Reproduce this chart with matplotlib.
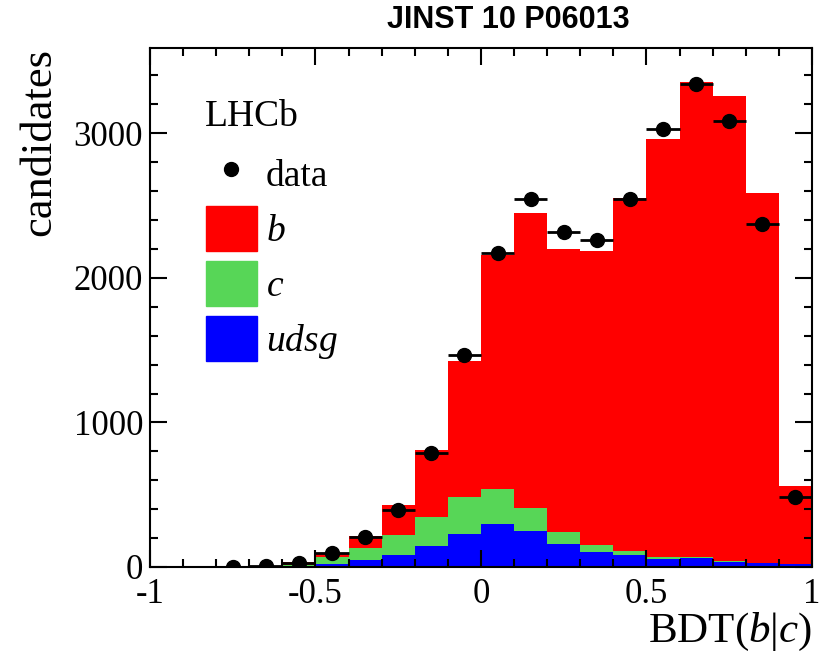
import numpy as np
import matplotlib
matplotlib.use('Agg')
import matplotlib.pyplot as plt
from matplotlib.lines import Line2D
from matplotlib.patches import Patch

plt.rcParams['font.family'] = ['Liberation Serif', 'DejaVu Serif']
plt.rcParams['mathtext.fontset'] = 'custom'
plt.rcParams['mathtext.rm'] = 'Liberation Serif'
plt.rcParams['mathtext.it'] = 'Liberation Serif:italic'

# 20 bins de -1 a 1
edges = np.linspace(-1, 1, 21)
centers = 0.5 * (edges[:-1] + edges[1:])

# contenuti stimati dalla figura (per bin)
udsg = [3, 3, 3, 3, 8, 20, 48, 83, 145, 226, 295, 249, 157, 106, 83, 53, 62, 37, 25, 18]
c = [0, 0, 0, 1, 7, 50, 85, 138, 200, 256, 242, 158, 84, 45, 28, 13, 6, 3, 2, 2]
b = [3, 3, 3, 4, 20, 27, 83, 207, 461, 942, 1619, 2043, 1957, 2033, 2439, 2892, 3284, 3215, 2558, 540]
data = [np.nan, np.nan, 2, 5, 25, 95, 205, 395, 790, 1465, 2170, 2545, 2315, 2262, 2548, 3027, 3340, 3085, 2370, 484]

udsg = np.array(udsg)
c_cum = udsg + np.array(c)
tot = c_cum + np.array(b)

fig = plt.figure(figsize=(8.21, 6.55), dpi=100)
ax = fig.add_axes([0.1827, 0.1344, 0.8063, 0.7923])

ax.stairs(tot, edges, fill=True, color='#ff0000', lw=0)
ax.stairs(c_cum, edges, fill=True, color='#57d657', lw=0)
ax.stairs(udsg, edges, fill=True, color='#0000ff', lw=0)

ax.errorbar(centers, data, xerr=0.05, fmt='o', color='black', ms=10,
            elinewidth=2, capsize=0, zorder=5)

ax.set_xlim(-1, 1)
ax.set_ylim(0, 3590)
ax.set_xticks([-1, -0.5, 0, 0.5, 1])
ax.set_xticklabels(['-1', '-0.5', '0', '0.5', '1'])
ax.set_xticks(np.arange(-1, 1.01, 0.1), minor=True)
ax.set_yticks([0, 1000, 2000, 3000])
ax.set_yticks(np.arange(0, 3590, 200), minor=True)
ax.tick_params(which='both', direction='in', top=True, right=True, width=1.5, labelsize=25)
ax.tick_params(which='major', length=12, pad=5)
ax.tick_params(axis='x', which='major', pad=8)
ax.tick_params(which='minor', length=6)
for s in ax.spines.values():
    s.set_linewidth(1.5)

ax.set_ylabel('candidates', fontsize=32, loc='top', labelpad=10)
ax.set_xlabel(r'BDT($b$|$c$)', fontsize=31, loc='right', labelpad=0)

ax.text(0.083, 0.868, 'LHCb', transform=ax.transAxes, fontsize=27, va='center')

handles = [Line2D([], [], marker='o', color='black', ls='', ms=10),
           Patch(color='#ff0000'), Patch(color='#57d657'), Patch(color='#0000ff')]
labels = ['data', '$b$', '$c$', '$udsg$']
ax.legend(handles, labels, loc='upper left', bbox_to_anchor=(0.062, 0.83),
          frameon=False, fontsize=27, handlelength=1.35, handleheight=1.45,
          handletextpad=0.25, labelspacing=0.28, borderaxespad=0)

fig.text(0.619, 0.969, 'JINST 10 P06013', fontsize=22, fontweight='bold',
         family='Liberation Sans', ha='center', va='center')

fig.savefig('out.png', dpi=100)
